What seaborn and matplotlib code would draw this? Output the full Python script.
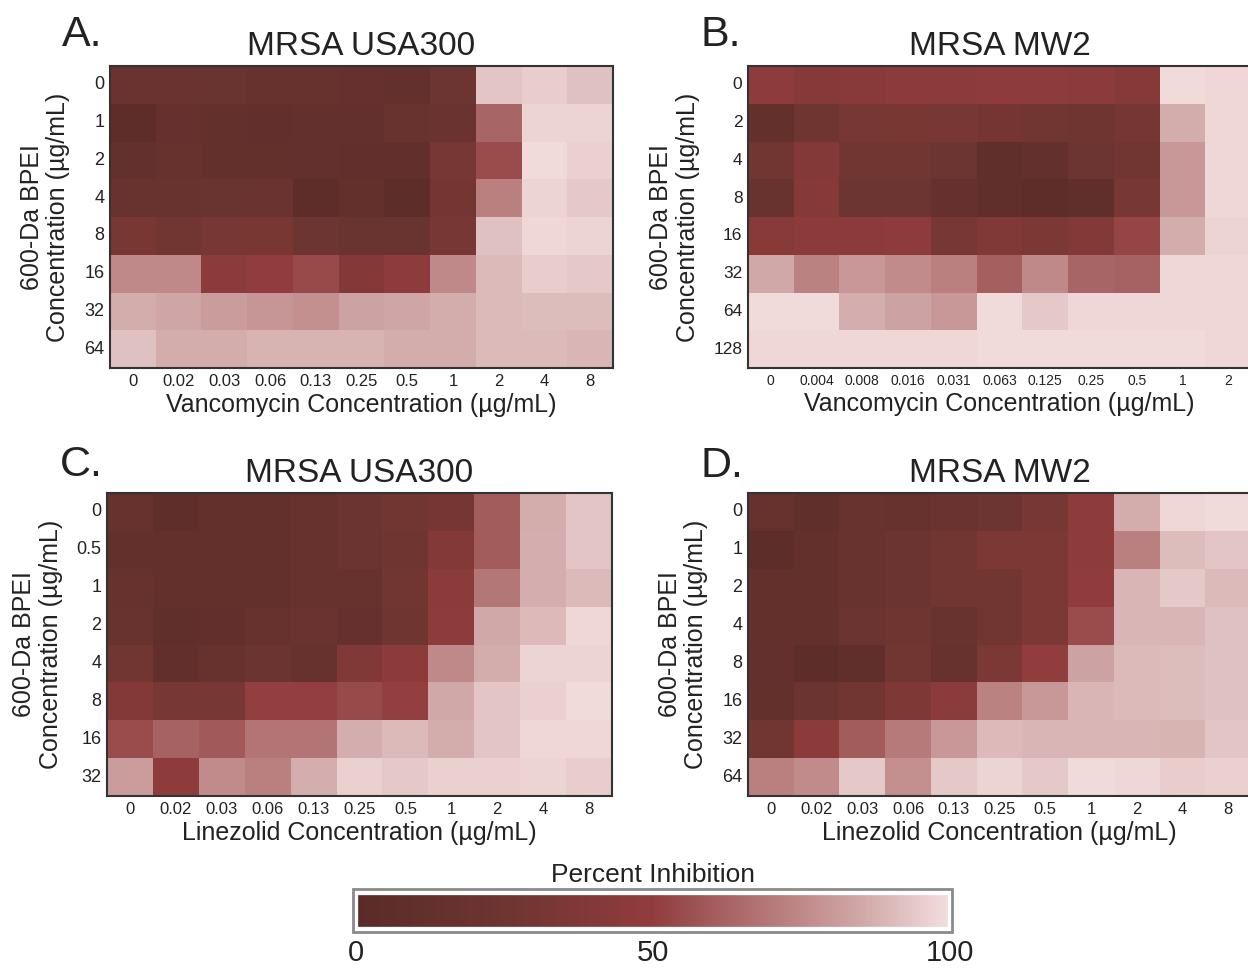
import numpy as np
import pandas as pd
import matplotlib
matplotlib.use("Agg")
import matplotlib.pyplot as plt
from matplotlib import font_manager
from matplotlib.colors import LinearSegmentedColormap
from matplotlib.patches import Rectangle
import seaborn as sns

# ---------------- data ----------------
vanco_a = ["0", "0.02", "0.03", "0.06", "0.13", "0.25", "0.5", "1", "2", "4", "8"]
vanco_b = ["0", "0.004", "0.008", "0.016", "0.031", "0.063", "0.125", "0.25", "0.5", "1", "2"]
linez = ["0", "0.02", "0.03", "0.06", "0.13", "0.25", "0.5", "1", "2", "4", "8"]

bpei_a = ["0", "1", "2", "4", "8", "16", "32", "64"]
bpei_b = ["0", "2", "4", "8", "16", "32", "64", "128"]
bpei_c = ["0", "0.5", "1", "2", "4", "8", "16", "32"]
bpei_d = ["0", "1", "2", "4", "8", "16", "32", "64"]

inhib_a = [
    [20, 20, 19, 17, 16, 14, 13, 24, 93, 95, 92],
    [5, 14, 12, 11, 13, 13, 18, 20, 63, 97, 97],
    [13, 16, 12, 12, 13, 11, 11, 32, 55, 99, 96],
    [18, 18, 19, 20, 5, 12, 4, 30, 72, 97, 94],
    [33, 28, 32, 33, 24, 19, 19, 32, 92, 98, 97],
    [75, 75, 46, 50, 54, 41, 47, 75, 90, 95, 94],
    [86, 84, 81, 79, 77, 83, 84, 86, 90, 91, 91],
    [92, 86, 86, 88, 88, 88, 86, 86, 90, 90, 89],
]
inhib_b = [
    [48, 42, 43, 46, 46, 47, 48, 46, 42, 99, 98],
    [12, 26, 32, 33, 32, 30, 27, 25, 31, 86, 98],
    [27, 40, 28, 27, 24, 8, 13, 24, 28, 80, 98],
    [18, 42, 24, 24, 14, 8, 5, 8, 32, 80, 98],
    [44, 46, 45, 48, 32, 38, 34, 40, 53, 86, 97],
    [85, 73, 80, 76, 72, 61, 75, 63, 62, 98, 98],
    [99, 99, 87, 83, 80, 99, 94, 98, 98, 98, 98],
    [98, 98, 98, 98, 98, 99, 99, 99, 99, 99, 98],
]
inhib_c = [
    [17, 7, 12, 12, 16, 22, 27, 31, 60, 86, 93],
    [12, 12, 12, 12, 17, 22, 26, 40, 60, 87, 93],
    [17, 12, 12, 12, 16, 16, 28, 46, 69, 87, 90],
    [18, 8, 10, 17, 20, 14, 26, 47, 85, 90, 98],
    [27, 10, 17, 22, 16, 38, 45, 75, 86, 97, 97],
    [40, 32, 32, 51, 51, 54, 51, 85, 93, 96, 99],
    [55, 62, 59, 68, 68, 87, 90, 86, 93, 98, 98],
    [81, 48, 76, 72, 87, 96, 94, 96, 96, 97, 95],
]
inhib_d = [
    [17, 8, 18, 17, 20, 24, 32, 47, 86, 98, 99],
    [4, 12, 18, 22, 27, 34, 34, 47, 72, 91, 93],
    [12, 12, 18, 22, 28, 28, 35, 49, 89, 94, 90],
    [12, 12, 22, 26, 18, 28, 34, 55, 89, 89, 92],
    [13, 4, 8, 28, 17, 34, 50, 83, 90, 91, 92],
    [12, 22, 28, 36, 45, 73, 80, 89, 90, 91, 92],
    [28, 46, 60, 70, 80, 90, 89, 89, 89, 88, 93],
    [72, 76, 94, 77, 94, 97, 94, 99, 98, 95, 96],
]

panel_letters = ["A.", "B.", "C.", "D."]
titles = ["MRSA USA300", "MRSA MW2", "MRSA USA300", "MRSA MW2"]
xlabels = ["Vancomycin Concentration (\u00b5g/mL)", "Vancomycin Concentration (\u00b5g/mL)",
           "Linezolid Concentration (\u00b5g/mL)", "Linezolid Concentration (\u00b5g/mL)"]
ylabel = "600-Da BPEI\nConcentration (\u00b5g/mL)"
cbar_title = "Percent Inhibition"
cbar_ticks = [0, 50, 100]

# ---------------- style ----------------
sns.set_theme(style="white")
names = {f.name for f in font_manager.fontManager.ttflist}
main_font = "Liberation Sans"
narrow = "Liberation Sans Narrow" if "Liberation Sans Narrow" in names else main_font
plt.rcParams["font.family"] = [main_font, "DejaVu Sans"]
txt = "#222222"

cmap = LinearSegmentedColormap.from_list(
    "inhib",
    [(0.0, "#5a2b28"), (0.25, "#6e3531"), (0.5, "#913c3c"), (0.62, "#a66262"),
     (0.75, "#bf8888"), (0.87, "#d4aeae"), (1.0, "#f3dedd")])

W, H = 1248, 968
fig = plt.figure(figsize=(W / 100, H / 100), dpi=100)


def fr(x0, y0, x1, y1):
    return [x0 / W, 1 - y1 / H, (x1 - x0) / W, (y1 - y0) / H]


panels = [
    (inhib_a, bpei_a, vanco_a, fr(110, 66, 613, 368), 12, 13),
    (inhib_b, bpei_b, vanco_b, fr(748, 66, 1251, 368), 10, 12.5),
    (inhib_c, bpei_c, linez, fr(107, 493, 612, 796), 12, 13),
    (inhib_d, bpei_d, linez, fr(748, 493, 1251, 796), 12, 13),
]
letter_pos = [(62, 46), (700, 46), (60, 476), (700, 477)]

cax = fig.add_axes(fr(356, 893, 950, 929))

for i, (vals, rows, cols, pos, xfs, yfs) in enumerate(panels):
    ax = fig.add_axes(pos)
    df = pd.DataFrame(vals, index=rows, columns=cols)
    sns.heatmap(df, ax=ax, cmap=cmap, vmin=0, vmax=100,
                cbar=(i == 0), cbar_ax=cax if i == 0 else None,
                cbar_kws={"orientation": "horizontal"} if i == 0 else None)
    for s in ax.spines.values():
        s.set_visible(True)
        s.set_color("#333333")
        s.set_linewidth(1.5)
    ax.tick_params(length=0, pad=4)
    ax.set_xticklabels(cols, rotation=0, fontsize=xfs, family=narrow, color=txt)
    ax.set_yticklabels(rows, rotation=0, fontsize=yfs, family=narrow, color=txt)
    ax.set_xlabel(xlabels[i], fontsize=18, color=txt, labelpad=3)
    ax.set_ylabel(ylabel, fontsize=18, color=txt, labelpad=10, linespacing=1.15)
    ax.set_title(titles[i], fontsize=24, color=txt, pad=8)
    lx, ly = letter_pos[i]
    fig.text(lx / W, 1 - ly / H, panel_letters[i], fontsize=31, color=txt,
             ha="left", va="baseline")

cax.tick_params(length=0, pad=7)
cax.set_xticks(cbar_ticks)
cax.set_xticklabels([str(t) for t in cbar_ticks], fontsize=21, family=narrow, color=txt)
for s in cax.spines.values():
    s.set_visible(True)
    s.set_color("white")
    s.set_linewidth(3)
cax.set_title(cbar_title, fontsize=19, color=txt, pad=8)
fig.patches.append(Rectangle((353 / W, 1 - 932 / H), 599 / W, 43 / H,
                             transform=fig.transFigure, fill=False,
                             edgecolor="#8a8a8a", linewidth=2))

fig.savefig("out.png", dpi=100)
